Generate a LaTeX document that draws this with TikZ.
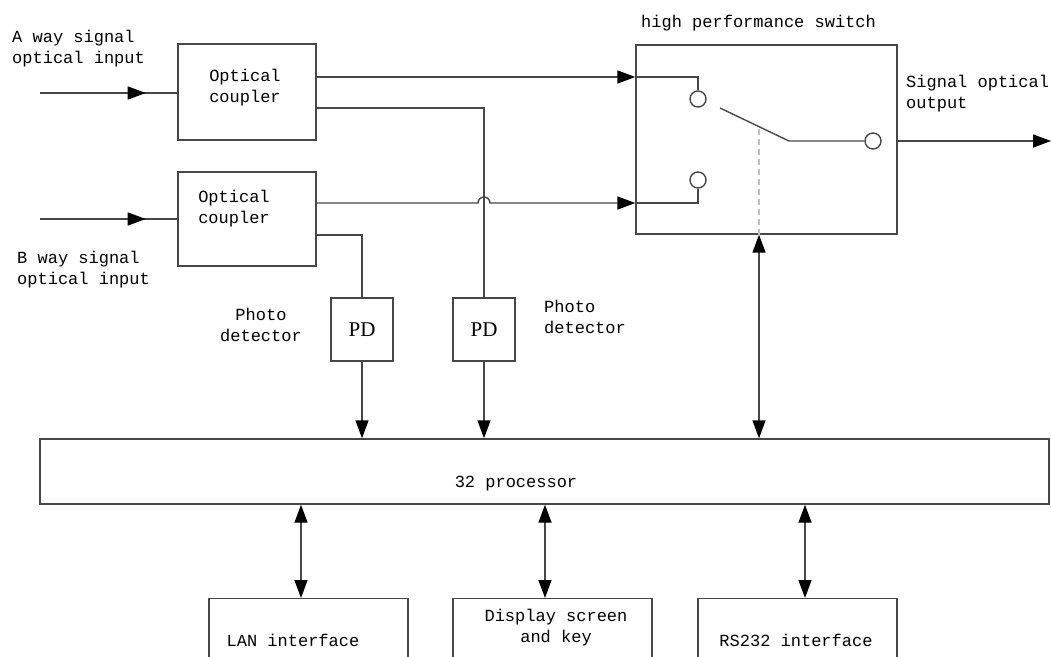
\documentclass[tikz,border=0pt]{standalone}
\usepackage{fontspec}
\setmainfont{Liberation Serif}
\setmonofont{Liberation Mono}
\usetikzlibrary{arrows.meta, calc, positioning, decorations.markings}

\begin{document}
\begin{tikzpicture}[
            x=1pt, y=-1pt,
            tip/.tip={Triangle[length=18pt, width=13pt, color=black]},
            wire/.style={line width=1.4pt, draw=black!72},
            sig/.style={wire, -tip},
            bidir/.style={wire, tip-tip},
            midarr/.style={wire, postaction=decorate, decoration={markings,
                mark=at position #1 with {\arrow{tip}}}},
            blk/.style={rectangle, draw=black!72, line width=1.4pt, inner sep=0pt},
            cbox/.style={blk, minimum width=138pt, minimum height=96pt},
            swbox/.style={blk, minimum width=261pt, minimum height=189pt},
            pdbox/.style={blk, minimum width=62pt, minimum height=63pt, font=\rmfamily\fontsize{21}{24}\selectfont},
            procbox/.style={blk, minimum width=1009pt, minimum height=65pt},
            iobox/.style={blk, minimum width=199pt, minimum height=100pt},
            pin/.style={circle, draw=black!72, line width=1.4pt, minimum size=16pt, inner sep=0pt},
            txt/.style={inner sep=0pt, font=\ttfamily\fontsize{17}{21}\selectfont}
        ]
            \useasboundingbox (0,0) rectangle (1051,656);
            \clip (0,0) rectangle (1051,656);

            % --- Blocks ---
            \node[cbox] (cplA) at (247,92) {};
            \node[cbox, minimum height=94pt] (cplB) at (247,219) {};
            \node[swbox] (sw) at (766.5,139.5) {};
            \node[pdbox] (pd1) at (362,329.5) {PD};
            \node[pdbox] (pd2) at (484,329.5) {PD};
            \node[procbox] (proc) at (544.5,471.5) {};
            \node[iobox, anchor=north] (lan) at (308.5,598) {};
            \node[iobox, anchor=north] (disp) at (552.5,598) {};
            \node[iobox, anchor=north] (rs) at (797.5,598) {};

            % switch contacts
            \node[pin] (c1) at (698,99) {};
            \node[pin] (c2) at (698,180) {};
            \node[pin] (c3) at (873,141) {};

            % --- Texts ---
            \node[txt, align=center] (cplAtxt) at (245,88) {Optical\\coupler};
            \node[txt, align=center] (cplBtxt) at (234,209) {Optical\\coupler};
            \node[txt, align=left, anchor=west] (inAtxt) at (12,49) {A way signal\\optical input};
            \node[txt, align=left, anchor=west] (inBtxt) at (17,270) {B way signal\\optical input};
            \node[txt, anchor=west] (swtxt) at (641,23) {high performance switch};
            \node[txt, align=left, anchor=west] (outtxt) at (906,94) {Signal optical\\output};
            \node[txt, align=center] (pd1txt) at (261,325) {Photo\\detector};
            \node[txt, align=left, anchor=west] (pd2txt) at (544,317) {Photo\\detector};
            \node[txt] (proctxt) at (516,484) {32 processor};
            \node[txt] (lantxt) at (293,640) {LAN interface};
            \node[txt, align=center] (disptxt) at (556,628) {Display screen\\and key};
            \node[txt] (rstxt) at (796,640) {RS232 interface};

            % --- Ports ---
            \coordinate (inA) at (40,93);
            \coordinate (inB) at (40,219);
            \coordinate (a1) at (316,77);
            \coordinate (a2) at (316,108);
            \coordinate (b1) at (316,203);
            \coordinate (b2) at (316,235);
            \coordinate (lever) at (720,108);
            \coordinate (knee) at (789,141);
            \coordinate (outp) at (1051,141);
            \coordinate (ctl) at (759,129);
            \coordinate (lanX) at (301,0);
            \coordinate (dispX) at (545,0);
            \coordinate (rsX) at (805,0);

            % --- Inputs ---
            \draw[midarr=0.77] (inA) -- (cplA.west |- inA);
            \draw[midarr=0.77] (inB) -- (cplB.west |- inB);

            % --- Coupler outputs ---
            \draw[sig] (a1) -- (sw.west |- a1);
            \draw[wire] (sw.west |- a1) -| (c1.north);
            \draw[wire] (a2) -| (pd2.north);
            \draw[sig] (b1) -- ($(pd2.north |- b1)+(-6,0)$)
              arc[start angle=180, end angle=0, radius=6pt] -- (sw.west |- b1);
            \draw[wire] (sw.west |- b1) -| (c2.south);
            \draw[wire] (b2) -| (pd1.north);

            % --- Switch ---
            \draw[wire] (lever) -- (knee) -- (c3.west);
            \draw[sig] (sw.east |- c3) -- (outp);
            \draw[black!25, line width=1.2pt, dash pattern=on 6pt off 4pt] (ctl) -- (sw.south -| ctl);

            % --- To processor ---
            \draw[sig] (pd1.south) -- (proc.north -| pd1);
            \draw[sig] (pd2.south) -- (proc.north -| pd2);
            \draw[bidir] (sw.south -| ctl) -- (proc.north -| ctl);

            % --- Interfaces ---
            \draw[bidir] (proc.south -| lanX) -- (lan.north -| lanX);
            \draw[bidir] (proc.south -| dispX) -- (disp.north -| dispX);
            \draw[bidir] (proc.south -| rsX) -- (rs.north -| rsX);
        \end{tikzpicture}
\end{document}
